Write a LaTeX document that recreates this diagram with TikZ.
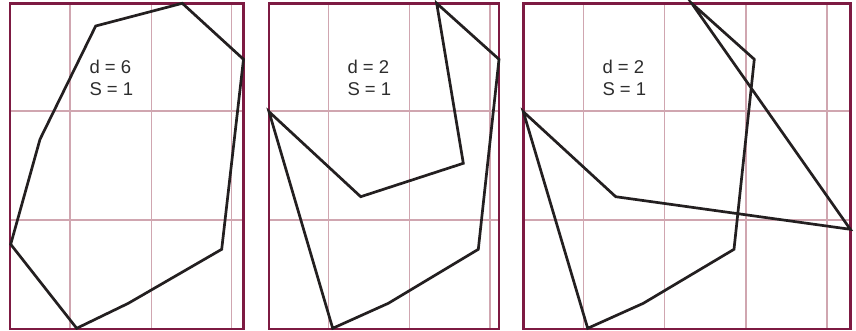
\documentclass[tikz,border=0pt]{standalone}
\usepackage{fontspec}
\setmainfont{Liberation Sans}
\definecolor{framec}{RGB}{125,26,66}
\definecolor{gridc}{RGB}{208,166,176}
\definecolor{polyc}{RGB}{35,31,32}
\definecolor{textc}{RGB}{45,45,45}
\begin{document}
\begin{tikzpicture}[x=1pt,y=-1pt,
  gridline/.style={draw=gridc,line width=1.1pt},
  frameline/.style={draw=framec,line width=2.6pt},
  polyline/.style={draw=polyc,line width=2.7pt,line join=miter},
  lbl/.style={anchor=base west,inner sep=0pt,text=textc,font=\fontsize{18.5}{22}\selectfont}]
\useasboundingbox (0,0) rectangle (856,330);
% panel 1
\foreach \x in {70,151.7,231.7} \draw[gridline] (\x,3.3) -- (\x,329);
\foreach \y in {111,220} \draw[gridline] (10,\y) -- (243.5,\y);
\draw[frameline] (10,3.3) rectangle (243.5,329);
\draw[polyline] (95.7,26) -- (182.3,3.3) -- (243.5,59.3) -- (221.7,249.3) -- (128.3,303.3) -- (76.7,328.3) -- (10.7,244.3) -- (40,139.3) -- cycle;
\node[lbl] (d1) at (89.3,73.3) {d = 6};
\node[lbl] (s1) at (89.3,95.7) {S = 1};
% panel 2
\foreach \x in {328.3,409.3,490} \draw[gridline] (\x,3.3) -- (\x,329);
\foreach \y in {111,220} \draw[gridline] (269,\y) -- (499,\y);
\draw[frameline] (269,3.3) rectangle (499,329);
\draw[polyline] (436.7,3.3) -- (499,59.3) -- (478.3,249.3) -- (388.3,303.3) -- (332.7,328.3) -- (269,111.7) -- (360.7,196.7) -- (463.3,163.3) -- cycle;
\node[lbl] (d2) at (347.3,73.3) {d = 2};
\node[lbl] (s2) at (347.3,95.7) {S = 1};
% panel 3
\foreach \x in {583.3,664.3,746,827} \draw[gridline] (\x,3.3) -- (\x,329);
\foreach \y in {111,220} \draw[gridline] (523.3,\y) -- (850.3,\y);
\draw[frameline] (523.3,3.3) rectangle (850.3,329);
\draw[polyline] (691.7,3.3) -- (754.3,59.3) -- (734,249.3) -- (643.3,303.3) -- (587.7,328.3) -- (523.3,111.7) -- (615.7,196.7) -- (850.3,229.3) -- cycle;
\node[lbl] (d3) at (602.3,73.3) {d = 2};
\node[lbl] (s3) at (602.3,95.7) {S = 1};
\end{tikzpicture}
\end{document}
